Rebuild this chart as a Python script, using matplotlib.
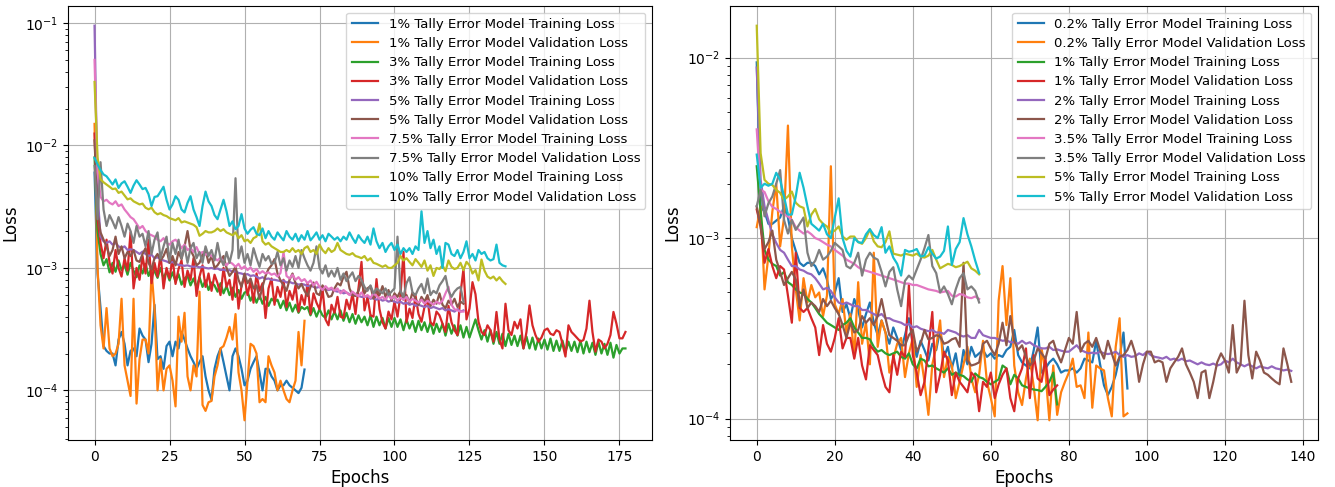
import numpy as np
import matplotlib
matplotlib.use("Agg")
import matplotlib.pyplot as plt

# all loss values are in units of 1e-4

# ---- left panel: 1% .. 10% tally error models ----
left_labels = ["1%", "3%", "5%", "7.5%", "10%"]

t1_train = [60, 9, 4.7, 2.3, 2.1, 2.0, 2.0, 1.6, 2.6, 3.0,
            2.4, 1.6, 2.1, 2.2, 1.9, 3.2, 2.8, 2.6, 1.7, 2.4,
            5.0, 1.8, 1.9, 1.5, 2.3, 2.5, 1.9, 2.5, 2.2, 3.0,
            2.6, 2.2, 1.9, 1.7, 1.5, 1.7, 1.9, 1.3, 1.0, 0.84,
            1.5, 1.9, 2.2, 1.7, 1.3, 1.0, 1.9, 2.2, 1.9, 1.5,
            1.1, 1.2, 1.5, 1.7, 1.9, 1.4, 1.0, 1.5, 1.5, 1.3,
            1.2, 1.0, 1.1, 1.1, 1.2, 1.1, 1.05, 1.0, 0.95, 1.05,
            1.48]
t1_val = [150, 10, 3.4, 2.2, 4.7, 2.2, 1.9, 2.0, 2.4, 5.6,
          1.6, 1.2, 0.9, 5.6, 0.78, 1.8, 2.6, 2.6, 2.0, 9.5,
          4.6, 1.0, 1.8, 1.0, 1.5, 1.6, 1.2, 0.74, 4.0, 2.5,
          4.3, 1.3, 1.0, 1.6, 1.3, 6.4, 0.76, 0.68, 0.8, 0.82,
          1.3, 1.6, 2.2, 2.3, 2.7, 3.3, 2.6, 4.2, 1.4, 1.0,
          0.57, 1.2, 2.4, 2.3, 2.0, 0.8, 0.85, 0.8, 1.9, 1.6,
          1.4, 1.0, 1.2, 1.0, 0.85, 0.8, 1.0, 1.2, 3.0, 1.6,
          3.7]

t3_train = [80, 20, 13, 10.5, 11.8, 9.2, 11.0, 9.3, 11.5, 9.6,
            10.6, 8.8, 11.0, 9.5, 8.4, 10.5, 9.0, 10.8, 8.6, 10.0,
            9.4, 8.3, 10.0, 8.2, 9.4, 7.9, 9.2, 7.7, 8.9, 7.3,
            8.2, 8.6, 7.2, 8.2, 6.9, 8.4, 7.0, 7.9, 6.6, 7.6,
            7.2, 6.4, 7.5, 6.2, 7.1, 6.0, 6.9, 5.8, 6.6, 5.6,
            6.3, 6.4, 5.4, 6.1, 5.2, 6.0, 5.1, 5.8, 4.9, 5.6,
            5.3, 5.5, 4.7, 5.4, 4.5, 5.2, 4.4, 5.0, 4.3, 4.8,
            4.6, 4.8, 4.1, 4.7, 4.0, 4.6, 4.1, 3.9, 4.5, 3.8,
            4.4, 3.8, 4.5, 3.7, 4.3, 3.6, 4.2, 3.5, 4.1, 3.6,
            4.0, 3.4, 4.1, 3.3, 4.0, 3.4, 3.9, 3.2, 3.9, 3.3,
            3.9, 3.3, 3.8, 3.1, 3.8, 3.2, 3.7, 3.0, 3.7, 3.1,
            3.6, 3.0, 3.6, 2.9, 3.5, 3.0, 3.5, 2.8, 3.5, 2.9,
            3.4, 2.8, 3.4, 2.7, 3.3, 2.7, 3.2, 3.8, 3.1, 2.6,
            3.1, 2.5, 3.1, 2.4, 3.0, 2.4, 2.9, 2.3, 2.9, 2.35,
            2.8, 2.3, 2.8, 2.2, 2.75, 2.2, 2.7, 2.15, 2.65, 2.2,
            2.6, 2.15, 2.65, 2.1, 2.55, 2.1, 2.55, 2.05, 2.5, 2.1,
            2.5, 2.05, 2.55, 2.0, 2.5, 2.05, 2.45, 1.95, 2.5, 2.0,
            2.4, 1.95, 2.45, 1.85, 2.35, 2.0, 2.2, 2.2]
t3_val = [125, 25, 16, 12, 17, 11, 9.0, 14, 10, 8.5,
          12, 9.5, 19.6, 6.8, 10, 8.0, 12.5, 9.0, 17, 7.5,
          11, 8.5, 13, 6.8, 10, 8.2, 12, 7.4, 9.8, 11.5,
          7.0, 9.5, 8.0, 12, 5.9, 8.5, 10.5, 7.0, 9.0, 6.5,
          8.8, 7.5, 6.0, 10, 7.0, 8.0, 5.5, 9.5, 4.65, 7.2,
          8.5, 6.0, 7.8, 5.2, 9.0, 6.5, 7.5, 3.9, 6.8, 8.2,
          5.0, 7.0, 5.8, 8.0, 4.8, 6.5, 5.5, 7.2, 4.4, 6.0,
          5.0, 7.5, 4.2, 6.2, 5.2, 4.6, 6.8, 3.8, 3.4, 5.0,
          4.3, 5.8, 4.0, 3.9, 5.5, 4.6, 6.2, 4.2, 6.8, 11.2,
          4.5, 5.8, 4.1, 4.0, 8.1, 4.6, 3.6, 3.2, 4.4, 3.8,
          5.3, 4.0, 6.0, 13.5, 3.6, 4.65, 3.9, 5.96, 4.2, 3.63,
          4.8, 5.6, 3.6, 3.4, 4.4, 4.1, 3.5, 3.0, 4.9, 3.6,
          3.1, 2.83, 6.2, 9.8, 3.8, 4.65, 7.65, 6.1, 3.63, 3.0,
          2.83, 3.4, 3.1, 2.5, 4.37, 2.6, 2.2, 5.1, 3.1, 2.83,
          3.63, 3.2, 3.8, 2.2, 3.0, 4.94, 3.4, 2.83, 2.5, 2.7,
          3.1, 3.2, 2.9, 2.83, 3.1, 3.0, 2.4, 1.89, 3.4, 3.0,
          2.83, 2.66, 2.5, 2.58, 3.2, 5.4, 3.0, 2.07, 2.6, 2.5,
          2.2, 2.4, 2.83, 4.37, 3.5, 2.66, 2.66, 3.0]

t5_train = [950, 40, 18, 16.5, 16, 16.5, 15.5, 16, 15, 14.5,
            15, 14, 14.2, 14, 13.5, 13, 13.6, 13, 12.5, 12.8,
            12, 12.2, 11.8, 11.5, 11.3, 11, 11.2, 10.8, 10.6, 10.5,
            10.4, 10.5, 10.3, 10.2, 10.3, 10.1, 10.2, 10.0, 9.9, 10.0,
            9.8, 9.9, 9.6, 9.7, 9.5, 9.6, 9.3, 9.4, 9.1, 9.0,
            8.8, 8.9, 8.6, 8.7, 8.5, 8.2, 8.4, 8.1, 8.2, 8.0,
            8.0, 7.9, 7.8, 7.9, 7.6, 7.7, 7.5, 7.5, 7.3, 7.4,
            7.3, 7.1, 7.2, 7.0, 6.9, 7.0, 6.8, 6.7, 6.6, 6.7,
            6.5, 6.4, 6.5, 6.2, 6.3, 6.1, 6.0, 6.1, 5.9, 5.8,
            5.8, 5.9, 5.6, 5.7, 5.5, 5.6, 5.4, 5.5, 5.3, 5.4,
            5.3, 5.2, 5.3, 5.1, 5.2, 5.0, 5.1, 4.9, 5.0, 4.9,
            4.8, 4.9, 4.7, 4.8, 4.7, 4.6, 4.7, 4.5, 4.6, 4.5,
            4.4, 4.6, 4.4, 4.5]
t5_val = [110, 28, 19.5, 17, 15, 12.5, 14, 18, 13, 15,
          12, 13.5, 12.5, 14, 11.5, 11.2, 13, 14.5, 11, 9.8,
          12, 13, 11.5, 12.5, 14.3, 11, 12.5, 10.5, 13.5, 11.8,
          15, 20, 14, 12.5, 10.5, 11, 12.8, 14, 11, 12.5,
          10, 10.5, 11.5, 12.5, 10, 8.6, 9.3, 10.2, 8.0, 7.0,
          9.0, 7.5, 8.2, 6.8, 7.2, 5.6, 7.0, 8.6, 9.8, 10.5,
          11.8, 9.0, 7.9, 7.2, 6.5, 8.0, 9.0, 7.5, 6.8, 7.4,
          6.5, 5.9, 7.0, 7.6, 6.2, 6.0, 7.2, 6.6, 5.8, 5.9,
          6.8, 7.5, 7.2, 8.5, 9.3, 6.8, 6.0, 5.9, 6.5, 7.8,
          6.2, 6.8, 7.1, 5.6, 6.5, 6.0, 7.1, 5.8, 6.6, 5.4,
          6.2, 5.8, 6.5, 5.5, 6.0, 5.2, 6.3, 5.6, 5.0, 5.8,
          5.3, 6.0, 4.9, 5.5, 5.1, 6.2, 5.0, 4.7, 5.4, 5.0,
          5.6, 4.8, 5.3, 5.1]

t75_train = [500, 60, 38, 35, 36, 34, 33, 35, 32, 33,
             30, 28, 26, 25, 23, 21, 22, 20, 19, 18.5,
             18, 17, 16.5, 17.5, 16, 15.5, 16.5, 17, 16, 14.5,
             15.5, 14, 14.5, 13.5, 14.8, 13, 13.5, 12.8, 13.2, 12.5,
             12, 11.5, 12.2, 11, 10.5, 11.2, 10.8, 10.2, 10.8, 9.8,
             10.3, 9.6, 10.1, 9.3, 9.8, 9.0, 9.4, 9.0, 9.2, 8.8,
             9.0, 8.5, 9.1, 13.5, 8.6, 8.2, 8.8, 8.0, 8.4, 7.8,
             8.1, 7.5, 7.9, 7.2, 7.7, 7.0, 6.6, 7.1, 6.7, 6.9,
             6.5, 6.8, 6.2, 6.6, 6.3, 6.0, 6.4, 6.1, 5.9, 6.3,
             5.8, 6.0, 5.7, 6.2, 5.9, 5.6, 5.8, 5.5, 6.0, 5.6,
             5.9, 5.4, 5.7, 5.5, 5.8, 5.3, 5.6, 5.4, 5.2, 5.5,
             5.1, 5.4, 5.2, 5.0, 5.3, 5.1, 5.4, 6.2, 7.0, 5.0,
             4.6, 4.5, 4.4, 4.4]
t75_val = [68, 25, 73, 30, 22, 27, 24, 21, 26, 22,
           18, 23, 20, 16, 22, 18, 19, 15, 20, 13,
           17, 19.5, 12, 15, 18, 11.5, 16, 13, 17, 12,
           15, 11, 14.5, 16, 12, 13.5, 11, 15, 12.5, 14,
           11.5, 16, 12, 10.5, 13.5, 11, 14, 54, 12, 15,
           11, 13, 10.5, 14.5, 12, 10.2, 13, 11.5, 12.5, 10.8,
           11, 13.5, 10.5, 12, 9.5, 11.5, 10.2, 12.5, 10, 14,
           12, 10.5, 9.5, 11, 15, 10, 9.0, 10.5, 8.5, 9.5,
           8.5, 10, 8.0, 9.0, 7.8, 8.5, 9.2, 7.8, 8.6, 8.0,
           7.0, 6.5, 7.2, 6.2, 6.8, 6.5, 6.2, 6.8, 6.0, 6.4,
           6.8, 18, 6.5, 5.8, 7.5, 8.4, 6.3, 6.0, 6.8, 7.4,
           6.2, 8.2, 6.0, 6.5, 6.2, 7.2, 7.8, 8.6, 6.5, 5.8,
           6.4, 6.8, 7.0, 5.3]

t10_train = [330, 80, 53, 50, 48, 46, 44, 44.5, 41, 42,
             39, 36.3, 37, 35, 34, 33, 33.5, 31, 30.1, 31,
             28.5, 27.4, 28, 27, 26.5, 25.5, 25, 24.5, 25.5, 23.5,
             24, 23.5, 23, 22.5, 21.5, 18.3, 19, 20, 19.5, 19.5,
             20, 21, 20, 20.7, 19.5, 19, 18.5, 19.5, 17.5, 18.5,
             16.5, 17, 16, 17.5, 18, 23, 16.5, 15.5, 16, 15,
             14.5, 14, 13.5, 13.5, 14, 13.5, 14.5, 13.5, 14, 13,
             14.5, 15, 13.5, 14, 13, 15.5, 14, 13.2, 14.5, 13.5,
             14, 16, 14, 13.5, 13, 12.8, 13.2, 12.5, 12.3, 12,
             12.5, 11.5, 12, 11, 10.8, 10.5, 10.2, 10.5, 10, 10,
             10.5, 11, 12.5, 11.5, 12, 11.2, 10.5, 11.8, 11, 10.2,
             11.5, 9.5, 10.5, 8.6, 10, 9.8, 10.5, 9.4, 11.5, 10.2,
             9.8, 10, 11, 9.6, 11.2, 10.5, 9.0, 9.6, 7.9, 11.7,
             9.5, 8.5, 8.2, 8.5, 7.9, 8.4, 7.8, 7.4]
t10_val = [79, 70, 63, 58, 56, 52, 48, 52.8, 45, 49,
           51, 46, 41, 47, 52, 48, 44, 45, 40, 32,
           38, 38.5, 42, 46, 36, 30, 33, 38.5, 36, 30,
           28.4, 34, 38.5, 30, 26, 22, 32, 42, 35, 32,
           27, 25, 30, 36, 29, 22, 24, 20.7, 22, 27.5,
           21, 19, 20.5, 21.5, 19, 18.5, 21, 17.5, 20, 18,
           17, 19.5, 18, 16.8, 20, 18, 17, 19, 16.5, 18.5,
           17, 20, 16.8, 18, 19.5, 17, 18.5, 16.5, 19, 18,
           17, 17.8, 16.5, 18, 17, 19.5, 17.5, 16, 18.5, 17,
           16, 18, 15.5, 21, 16.5, 14.5, 16, 13.5, 15, 16,
           14, 15.5, 13, 14.5, 13.5, 14.5, 13, 15, 14, 29,
           16, 20, 14.5, 17, 13, 15, 10, 16, 15.5, 13,
           12.5, 14, 12, 13.5, 16.5, 12, 13, 11.5, 14, 13,
           13.5, 12, 11.5, 11.8, 15.5, 11, 10.5, 10.3]

left_series = [t1_train, t1_val, t3_train, t3_val, t5_train, t5_val,
               t75_train, t75_val, t10_train, t10_val]

# ---- right panel: 0.2% .. 5% tally error models ----
right_labels = ["0.2%", "1%", "2%", "3.5%", "5%"]

r02_train = [94, 15, 14, 12, 12, 12.5, 13, 15, 13, 10,
             8.5, 7.3, 7.0, 7.3, 7.3, 7.0, 6.3, 6.8, 5.9, 4.6,
             5.0, 6.0, 3.9, 4.3, 3.6, 4.6, 4.0, 3.2, 3.8, 4.4,
             3.4, 2.9, 3.5, 3.0, 2.6, 3.2, 2.8, 2.4, 2.9, 3.6,
             2.6, 2.2, 2.7, 2.4, 2.1, 2.6, 2.4, 3.1, 2.2, 2.5,
             1.9, 2.3, 1.7, 2.4, 2.0, 2.5, 2.2, 2.3, 2.4, 2.2,
             2.3, 2.15, 2.25, 2.2, 2.4, 2.5, 3.1, 2.25, 2.05, 1.97,
             1.9, 2.4, 3.2, 1.8, 1.9, 2.05, 2.15, 2.0, 1.8, 1.85,
             1.85, 1.9, 1.8, 1.9, 2.15, 2.1, 2.05, 2.7, 2.0, 1.53,
             1.35, 1.5, 1.75, 2.2, 3.0, 1.47]
r02_val = [11.5, 15, 5.2, 8, 14, 20, 9, 13, 42, 9,
           5.2, 3.5, 6.0, 4.4, 5.5, 4.7, 5.0, 3.7, 4.8, 25,
           4.3, 3.8, 4.6, 3.0, 3.8, 2.2, 5.7, 2.6, 3.4, 2.0,
           8.3, 2.5, 3.5, 3.0, 1.8, 2.15, 2.6, 2.8, 1.7, 2.3,
           2.8, 1.5, 2.25, 1.6, 1.05, 2.0, 2.5, 3.5, 1.7, 2.2,
           1.97, 1.3, 1.6, 2.0, 2.5, 1.67, 1.4, 1.75, 2.7, 1.6,
           1.3, 1.03, 4.5, 7.0, 3.3, 6.0, 1.97, 1.4, 1.19, 1.67,
           2.15, 1.5, 0.98, 2.45, 1.8, 0.98, 1.97, 1.05, 1.4, 1.6,
           1.8, 2.15, 1.5, 1.53, 1.3, 3.0, 1.15, 1.97, 1.9, 1.85,
           1.3, 1.03, 2.5, 3.6, 1.03, 1.07]

r1_train = [25, 14, 8.6, 7.6, 7.2, 7.0, 6.2, 6.5, 5.7, 5.5,
            5.2, 5.0, 4.9, 4.6, 4.4, 4.1, 3.8, 3.6, 3.4, 3.3,
            3.2, 3.1, 3.3, 3.4, 3.6, 3.2, 3.0, 2.8, 2.8, 2.75,
            2.5, 2.35, 2.4, 2.3, 2.25, 2.3, 2.35, 2.2, 2.15, 2.3,
            2.0, 1.9, 2.15, 2.1, 1.95, 1.97, 1.9, 1.85, 1.8, 1.9,
            1.75, 1.8, 1.75, 1.72, 1.65, 1.6, 1.78, 1.7, 1.67, 1.6,
            1.55, 1.6, 1.65, 1.97, 1.9, 1.55, 1.75, 1.67, 1.53, 1.5,
            1.47, 1.45, 1.44, 1.42, 1.5, 1.6, 1.8, 1.2]
r1_val = [14.4, 11.7, 7.3, 8.7, 7.0, 6.0, 7.0, 6.7, 4.8, 3.4,
          8.3, 4.1, 3.9, 4.1, 3.6, 3.2, 2.25, 3.3, 2.6, 2.35,
          2.8, 3.6, 2.45, 2.8, 2.8, 2.15, 2.8, 1.97, 1.65, 2.55,
          2.4, 2.25, 1.8, 1.5, 1.4, 2.25, 1.75, 2.35, 2.2, 5.5,
          2.25, 1.8, 1.35, 1.6, 2.45, 3.9, 1.4, 1.75, 2.35, 2.1,
          1.35, 1.8, 1.6, 1.5, 1.4, 1.8, 1.7, 1.1, 1.6, 1.5,
          1.8, 1.3, 1.55, 1.75, 1.9, 1.3, 1.1, 1.67, 1.9, 2.45,
          1.3, 2.25, 1.67, 1.6, 2.15, 1.35, 1.45, 1.53]

r2_train = [88, 21, 15, 12.5, 10.5, 9.4, 8.6, 8.3, 7.6, 7.0,
            7.0, 6.7, 6.6, 6.4, 6.3, 6.0, 5.6, 5.2, 5.3, 5.1,
            4.7, 4.4, 4.3, 4.4, 4.3, 4.2, 4.2, 4.0, 4.0, 3.9,
            3.8, 3.7, 3.8, 3.6, 3.6, 3.5, 3.45, 3.4, 3.3, 3.35,
            3.2, 3.25, 3.15, 3.1, 3.05, 3.1, 3.0, 3.0, 2.95, 3.1,
            3.05, 3.0, 2.9, 2.85, 2.9, 2.8, 2.8, 3.1, 2.9, 2.85,
            2.8, 2.8, 2.75, 2.7, 2.72, 2.65, 2.65, 2.6, 2.7, 2.6,
            2.65, 2.55, 2.5, 2.45, 2.45, 2.5, 2.4, 2.42, 2.38, 2.35,
            2.35, 2.45, 2.55, 2.4, 2.35, 2.3, 2.32, 2.3, 2.35, 2.3,
            2.28, 2.3, 2.35, 2.25, 2.2, 2.25, 2.2, 2.22, 2.3, 2.25,
            2.35, 2.25, 2.2, 2.18, 2.15, 2.2, 2.12, 2.15, 2.1, 2.15,
            2.08, 2.1, 2.05, 2.0, 2.05, 2.0, 1.98, 2.02, 1.97, 2.0,
            2.1, 2.05, 2.15, 2.05, 2.0, 1.95, 2.0, 1.95, 1.9, 1.95,
            1.92, 1.9, 1.95, 1.9, 1.88, 1.85, 1.87, 1.84]
r2_val = [15, 11.5, 8.7, 9.5, 11, 7.6, 6.5, 5.5, 6.0, 6.5,
          5.9, 4.2, 5.2, 4.1, 4.4, 4.2, 3.9, 4.6, 4.2, 4.5,
          4.1, 3.8, 3.3, 2.8, 3.4, 3.0, 3.1, 3.7, 3.4, 3.6,
          3.3, 3.7, 4.6, 3.6, 2.9, 2.8, 2.7, 2.55, 2.55, 2.9,
          3.1, 2.35, 2.6, 3.1, 2.75, 2.8, 2.9, 2.85, 2.6, 2.65,
          2.75, 2.8, 2.5, 7.3, 2.1, 1.97, 2.0, 2.05, 2.6, 2.7,
          2.45, 2.25, 2.6, 3.4, 2.55, 3.7, 2.7, 2.4, 2.55, 2.2,
          1.97, 2.1, 2.45, 2.3, 2.15, 2.6, 2.7, 2.3, 2.05, 2.4,
          2.8, 2.6, 3.9, 2.35, 2.6, 2.7, 2.5, 2.8, 2.4, 2.15,
          2.7, 2.3, 1.97, 2.2, 2.25, 2.4, 2.7, 2.3, 1.6, 2.0,
          2.35, 2.35, 2.05, 2.1, 2.05, 1.6, 1.9, 2.05, 2.2, 2.45,
          2.0, 1.8, 1.6, 1.3, 1.8, 1.85, 1.3, 1.6, 2.05, 2.3,
          2.1, 1.8, 3.3, 1.8, 2.0, 4.5, 2.25, 1.67, 2.35, 2.1,
          1.8, 1.75, 1.67, 1.6, 1.55, 2.45, 2.0, 1.6]

r35_train = [40, 18.5, 18, 16, 14.9, 14.5, 14, 13.5, 13.2, 12.6,
             11.5, 11, 10.6, 10.9, 10.5, 10, 9.8, 9.5, 9.2, 9.0,
             8.6, 8.3, 8.0, 7.6, 7.4, 7.2, 6.9, 6.7, 6.6, 6.5,
             6.4, 6.3, 6.2, 6.1, 6.0, 5.9, 5.8, 5.7, 5.6, 5.6,
             5.5, 5.5, 5.4, 5.3, 5.2, 5.15, 5.1, 5.0, 5.05, 5.1,
             4.8, 4.75, 4.9, 4.85, 4.7, 4.65, 4.75, 4.6]
r35_val = [15, 18.5, 13.2, 15.6, 17, 20, 23.8, 12.6, 10.6, 12.6,
           11.1, 12, 13, 8.3, 7.0, 7.5, 8.6, 7.6, 7.9, 8.5,
           9.4, 9.0, 8.6, 7.0, 6.8, 7.3, 8.3, 6.2, 7.6, 8.3,
           7.8, 7.6, 6.5, 5.4, 6.5, 6.9, 5.2, 4.2, 5.8, 6.2,
           5.9, 6.7, 7.6, 8.8, 10.4, 7.0, 6.4, 5.0, 5.4, 4.9,
           4.3, 5.2, 6.0, 6.4, 5.2, 5.4, 5.1, 4.4]

r5_train = [150, 29.5, 21, 20, 19.7, 18.5, 17.8, 16.3, 17, 18.1,
            15.7, 15, 14.7, 11.6, 13.5, 14.5, 12.7, 12, 11.6, 10.7,
            11, 11.6, 10.2, 9.8, 10.2, 10.2, 9.5, 9.3, 10, 11.2,
            9.6, 9.0, 8.9, 9.5, 10.9, 8.2, 8.1, 8.0, 8.2, 8.1,
            8.0, 8.2, 7.9, 7.8, 8.0, 8.6, 7.6, 6.8, 7.0, 7.2,
            7.1, 6.9, 7.0, 7.2, 7.4, 6.8, 6.6, 6.3]
r5_val = [29, 19, 20, 19.5, 20, 23, 21, 17, 13.5, 13.5,
          17, 23, 19, 15, 12, 11.5, 11, 12, 10.5, 10,
          13, 16.6, 10, 8.5, 7.9, 10, 9.5, 9.4, 10.5, 11.2,
          10.4, 10, 11.5, 8.3, 9.0, 7.8, 7.2, 6.2, 8.6, 8.4,
          8.5, 8.7, 7.9, 8.0, 8.9, 8.2, 7.7, 7.9, 8.5, 11.6,
          7.1, 8.7, 9.5, 12.9, 10.5, 9.0, 7.5, 6.4]

right_series = [r02_train, r02_val, r1_train, r1_val, r2_train, r2_val,
                r35_train, r35_val, r5_train, r5_val]


def draw_panel(ax, series, labels):
    for i, vals in enumerate(series):
        y = np.array(vals) * 1e-4
        x = np.arange(len(y))
        kind = "Training" if i % 2 == 0 else "Validation"
        ax.plot(x, y, lw=1.6,
                label=f"{labels[i // 2]} Tally Error Model {kind} Loss")
    ax.set_yscale("log")
    ax.grid(True)
    ax.set_xlabel("Epochs", fontsize=12)
    ax.set_ylabel("Loss", fontsize=12)
    ax.tick_params(labelsize=10)
    ax.legend(loc="upper right", fontsize=9.5, labelspacing=0.47)


W, H = 1335, 487
fig = plt.figure(figsize=(W / 100, H / 100), dpi=100)
ax1 = fig.add_axes([68 / W, 47 / H, 584 / W, 434 / H])
ax2 = fig.add_axes([730 / W, 47 / H, 588 / W, 434 / H])

draw_panel(ax1, left_series, left_labels)
draw_panel(ax2, right_series, right_labels)
ax1.set_xticks([0, 25, 50, 75, 100, 125, 150, 175])

fig.savefig("out.png", dpi=100)
